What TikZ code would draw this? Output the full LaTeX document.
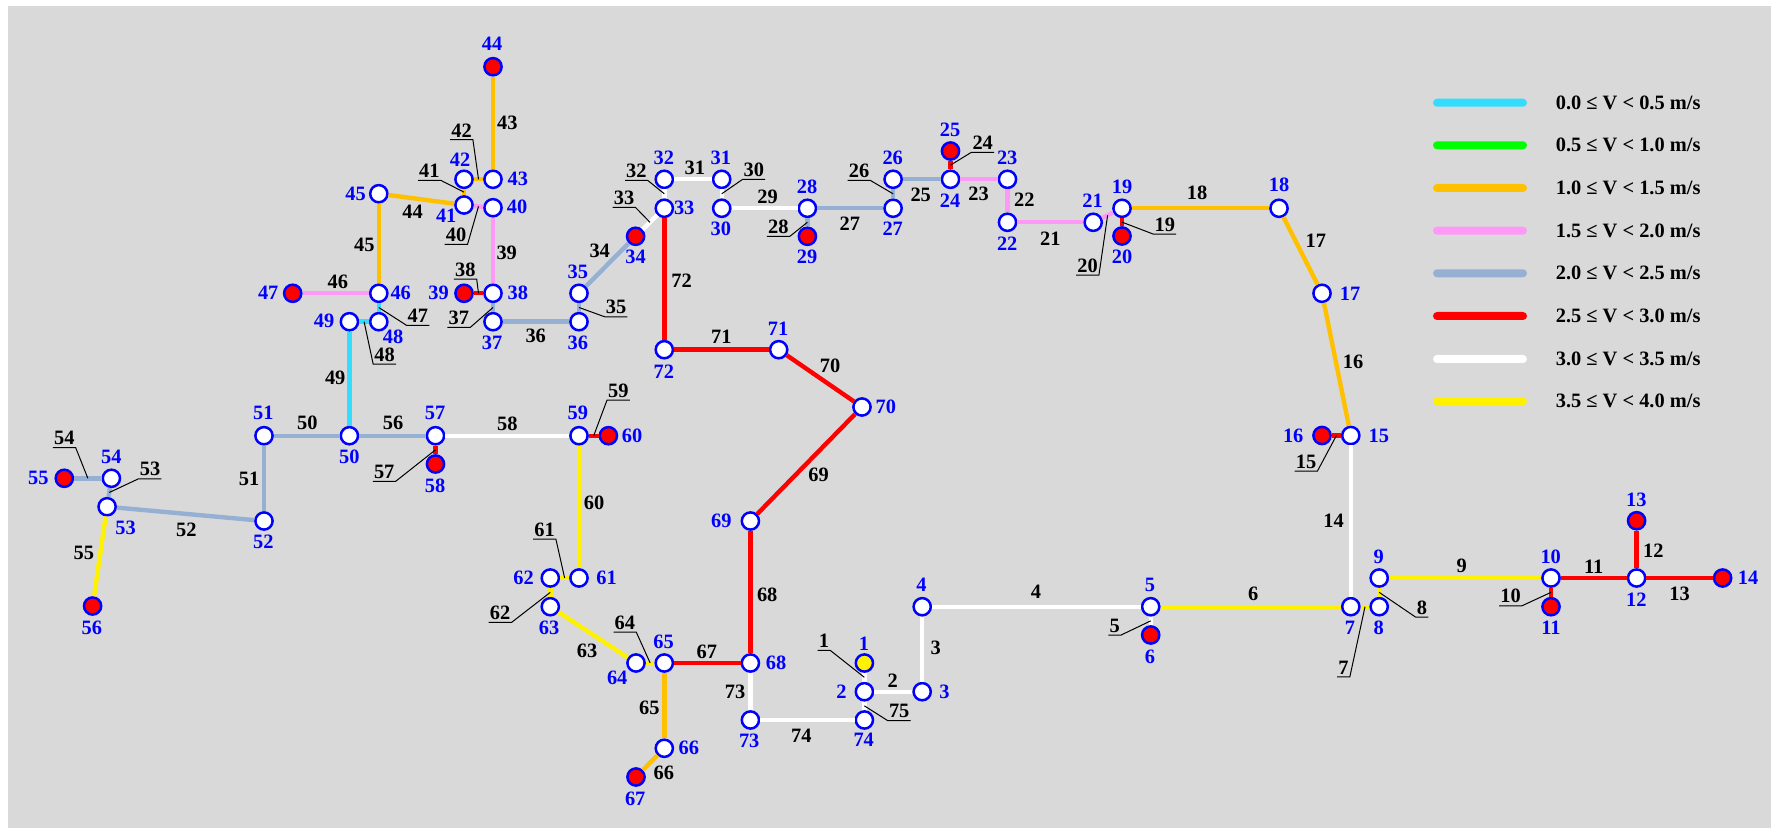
\documentclass[tikz,border=0pt]{standalone}
\usepackage{fontspec}
\setmainfont{Liberation Serif}
\definecolor{panel}{HTML}{D9D9D9}
\definecolor{velcyan}{HTML}{33DDFF}
\definecolor{velgreen}{HTML}{00FF00}
\definecolor{velorange}{HTML}{FFC000}
\definecolor{velpink}{HTML}{FF99F8}
\definecolor{velslate}{HTML}{95B0D2}
\tikzset{
  junc/.style={shape=circle,draw=blue,fill=white,line width=1.25pt,minimum size=8.6pt,inner sep=0pt},
  sink/.style={junc,fill=red},
  source/.style={junc,fill=yellow},
  vtext/.style={text=blue,font=\bfseries\fontsize{10.2}{11}\selectfont,inner sep=0pt},
  elabel/.style={text=black,font=\bfseries\fontsize{10.2}{11}\selectfont,inner sep=0pt},
  tag/.style={elabel,inner xsep=.4pt,inner ysep=1.1pt},
  leader/.style={draw=black,line width=.5pt},
  fcyan/.style={draw=velcyan,line width=2.2pt},
  forange/.style={draw=velorange,line width=2.2pt},
  fpink/.style={draw=velpink,line width=2.2pt},
  fslate/.style={draw=velslate,line width=2.2pt},
  fred/.style={draw=red,line width=2.2pt},
  fwhite/.style={draw=white,line width=2.2pt},
  fyellow/.style={draw=yellow,line width=2.2pt},
  swatch/.style={shape=rectangle,rounded corners=2pt,minimum width=47pt,minimum height=4pt,inner sep=0pt},
  keytext/.style={elabel,anchor=west}
}
\begin{document}
\begin{tikzpicture}[x=.5pt,y=-.5pt]
  \path[use as bounding box] (0,0) rectangle (1771,828);
  \fill[panel] (8,6) rectangle (1771,828);

  \node[source] (n1) at (864.4,663) {};
  \node[junc] (n2) at (864.4,691.7) {};
  \node[junc] (n3) at (922.2,691.7) {};
  \node[junc] (n4) at (922.2,606.7) {};
  \node[junc] (n5) at (1150.7,606.7) {};
  \node[sink] (n6) at (1150.7,635) {};
  \node[junc] (n7) at (1350.8,606.7) {};
  \node[junc] (n8) at (1379.2,606.7) {};
  \node[junc] (n9) at (1379.2,578) {};
  \node[junc] (n10) at (1551,578) {};
  \node[sink] (n11) at (1551,606.7) {};
  \node[junc] (n12) at (1636.6,578) {};
  \node[sink] (n13) at (1636.6,520.7) {};
  \node[sink] (n14) at (1722.6,578) {};
  \node[junc] (n15) at (1350.8,435.5) {};
  \node[sink] (n16) at (1322,435.5) {};
  \node[junc] (n17) at (1322,293.3) {};
  \node[junc] (n18) at (1279,208.3) {};
  \node[junc] (n19) at (1122,208.3) {};
  \node[sink] (n20) at (1122,236) {};
  \node[junc] (n21) at (1093.2,222.3) {};
  \node[junc] (n22) at (1007.5,222.3) {};
  \node[junc] (n23) at (1007.5,179.3) {};
  \node[junc] (n24) at (950.5,179.3) {};
  \node[sink] (n25) at (950.5,151) {};
  \node[junc] (n26) at (893.1,179.3) {};
  \node[junc] (n27) at (893.1,208.3) {};
  \node[junc] (n28) at (807.4,208.3) {};
  \node[sink] (n29) at (807.4,236.3) {};
  \node[junc] (n30) at (721.7,208.3) {};
  \node[junc] (n31) at (721.7,179.3) {};
  \node[junc] (n32) at (664.3,179.3) {};
  \node[junc] (n33) at (664.3,208.3) {};
  \node[sink] (n34) at (635.6,236.3) {};
  \node[junc] (n35) at (579,293.3) {};
  \node[junc] (n36) at (579,321.7) {};
  \node[junc] (n37) at (493,321.7) {};
  \node[junc] (n38) at (493,293.3) {};
  \node[sink] (n39) at (464,293.3) {};
  \node[junc] (n40) at (493,207.7) {};
  \node[junc] (n41) at (464,205) {};
  \node[junc] (n42) at (464,179.3) {};
  \node[junc] (n43) at (493,179.3) {};
  \node[sink] (n44) at (493,66.7) {};
  \node[junc] (n45) at (378.8,193.7) {};
  \node[junc] (n46) at (378.8,293.3) {};
  \node[sink] (n47) at (292.7,293.3) {};
  \node[junc] (n48) at (378.8,321.7) {};
  \node[junc] (n49) at (349.4,321.7) {};
  \node[junc] (n50) at (349.4,435.7) {};
  \node[junc] (n51) at (264,435.7) {};
  \node[junc] (n52) at (264,521) {};
  \node[junc] (n53) at (107.1,506.7) {};
  \node[junc] (n54) at (111.4,478.3) {};
  \node[sink] (n55) at (64.3,478.3) {};
  \node[sink] (n56) at (92.6,606) {};
  \node[junc] (n57) at (435.5,435.7) {};
  \node[sink] (n58) at (435.5,464) {};
  \node[junc] (n59) at (579,435.7) {};
  \node[sink] (n60) at (608.4,435.7) {};
  \node[junc] (n61) at (579,578) {};
  \node[junc] (n62) at (550.3,578) {};
  \node[junc] (n63) at (550.3,606.7) {};
  \node[junc] (n64) at (636,663) {};
  \node[junc] (n65) at (664.3,663) {};
  \node[junc] (n66) at (664.3,748.3) {};
  \node[sink] (n67) at (636,777) {};
  \node[junc] (n68) at (750.4,663) {};
  \node[junc] (n69) at (750.4,521) {};
  \node[junc] (n70) at (862,407) {};
  \node[junc] (n71) at (778.7,349.7) {};
  \node[junc] (n72) at (664.3,349.7) {};
  \node[junc] (n73) at (750.4,720) {};
  \node[junc] (n74) at (864.4,720) {};

  \draw[fwhite] (n1) -- node[coordinate] (e1) {} (n2);
  \draw[fwhite] (n2) -- (n3);
  \draw[fwhite] (n3) -- (n4);
  \draw[fwhite] (n4) -- (n5);
  \draw[fwhite] (n5) -- node[coordinate] (e5) {} (n6);
  \draw[fyellow] (n5) -- (n7);
  \draw[fyellow] (n7) -- node[coordinate] (e7) {} (n8);
  \draw[fyellow] (n8) -- node[coordinate] (e8) {} (n9);
  \draw[fyellow] (n9) -- (n10);
  \draw[fred] (n10) -- node[coordinate] (e10) {} (n11);
  \draw[fred] (n10) -- (n12);
  \draw[fred] (n12) -- (n13);
  \draw[fred] (n12) -- (n14);
  \draw[fwhite] (n7) -- (n15);
  \draw[fred] (n15) -- node[coordinate] (e15) {} (n16);
  \draw[forange] (n15) -- (n17);
  \draw[forange] (n17) -- (n18);
  \draw[forange] (n18) -- (n19);
  \draw[fred] (n19) -- node[coordinate] (e19) {} (n20);
  \draw[fpink] (n19) -- node[coordinate] (e20) {} (n21);
  \draw[fpink] (n21) -- (n22);
  \draw[fpink] (n22) -- (n23);
  \draw[fpink] (n23) -- (n24);
  \draw[fred] (n24) -- node[coordinate] (e24) {} (n25);
  \draw[fslate] (n24) -- (n26);
  \draw[fslate] (n26) -- node[coordinate] (e26) {} (n27);
  \draw[fslate] (n27) -- (n28);
  \draw[fslate] (n28) -- node[coordinate] (e28) {} (n29);
  \draw[fwhite] (n28) -- (n30);
  \draw[fwhite] (n30) -- node[coordinate] (e30) {} (n31);
  \draw[fwhite] (n31) -- (n32);
  \draw[fwhite] (n32) -- node[coordinate] (e32) {} (n33);
  \draw[fwhite] (n33) -- node[coordinate] (e33) {} (n34);
  \draw[fslate] (n34) -- (n35);
  \draw[fslate] (n35) -- node[coordinate] (e35) {} (n36);
  \draw[fslate] (n36) -- (n37);
  \draw[fslate] (n37) -- node[coordinate] (e37) {} (n38);
  \draw[fred] (n38) -- node[coordinate] (e38) {} (n39);
  \draw[fpink] (n38) -- (n40);
  \draw[fpink] (n40) -- node[coordinate] (e40) {} (n41);
  \draw[forange] (n41) -- node[coordinate] (e41) {} (n42);
  \draw[forange] (n42) -- node[coordinate] (e42) {} (n43);
  \draw[forange] (n43) -- (n44);
  \draw[forange] (n41) -- (n45);
  \draw[forange] (n45) -- (n46);
  \draw[fpink] (n46) -- (n47);
  \draw[fcyan] (n46) -- node[coordinate] (e47) {} (n48);
  \draw[fcyan] (n48) -- node[coordinate] (e48) {} (n49);
  \draw[fcyan] (n49) -- (n50);
  \draw[fslate] (n50) -- (n51);
  \draw[fslate] (n51) -- (n52);
  \draw[fslate] (n52) -- (n53);
  \draw[fslate] (n53) -- node[coordinate] (e53) {} (n54);
  \draw[fslate] (n54) -- node[coordinate] (e54) {} (n55);
  \draw[fyellow] (n53) -- (n56);
  \draw[fslate] (n50) -- (n57);
  \draw[fred] (n57) -- node[coordinate] (e57) {} (n58);
  \draw[fwhite] (n57) -- (n59);
  \draw[fred] (n59) -- node[coordinate] (e59) {} (n60);
  \draw[fyellow] (n59) -- (n61);
  \draw[fyellow] (n61) -- node[coordinate] (e61) {} (n62);
  \draw[fyellow] (n62) -- node[coordinate] (e62) {} (n63);
  \draw[fyellow] (n63) -- (n64);
  \draw[fyellow] (n64) -- node[coordinate] (e64) {} (n65);
  \draw[forange] (n65) -- (n66);
  \draw[forange] (n66) -- (n67);
  \draw[fred] (n65) -- (n68);
  \draw[fred] (n68) -- (n69);
  \draw[fred] (n69) -- (n70);
  \draw[fred] (n70) -- (n71);
  \draw[fred] (n71) -- (n72);
  \draw[fred] (n33) -- (n72);
  \draw[fwhite] (n68) -- (n73);
  \draw[fwhite] (n73) -- (n74);
  \draw[fwhite] (n2) -- node[coordinate] (e75) {} (n74);

  \node[vtext] (t1) at (864,643.7) {1};
  \node[vtext] (t2) at (841.5,691.7) {2};
  \node[vtext] (t3) at (944.4,691.7) {3};
  \node[vtext] (t4) at (921.4,584.7) {4};
  \node[vtext] (t5) at (1149.9,584.7) {5};
  \node[vtext] (t6) at (1149.9,657) {6};
  \node[vtext] (t7) at (1350,627.7) {7};
  \node[vtext] (t8) at (1378.8,627.7) {8};
  \node[vtext] (t9) at (1378.8,556.7) {9};
  \node[vtext] (t10) at (1550.7,556.7) {10};
  \node[vtext] (t11) at (1551,627.7) {11};
  \node[vtext] (t12) at (1636.3,599.7) {12};
  \node[vtext] (t13) at (1636.3,499.7) {13};
  \node[vtext] (t14) at (1748,578) {14};
  \node[vtext] (t15) at (1378.8,435.7) {15};
  \node[vtext] (t16) at (1293.2,435.7) {16};
  \node[vtext] (t17) at (1350,293.3) {17};
  \node[vtext] (t18) at (1279,184.7) {18};
  \node[vtext] (t19) at (1122,186.7) {19};
  \node[vtext] (t20) at (1122,257.3) {20};
  \node[vtext] (t21) at (1092.5,200.7) {21};
  \node[vtext] (t22) at (1007.2,243.7) {22};
  \node[vtext] (t23) at (1007.2,157.7) {23};
  \node[vtext] (t24) at (950.1,200.7) {24};
  \node[vtext] (t25) at (950.1,129.7) {25};
  \node[vtext] (t26) at (892.7,157.7) {26};
  \node[vtext] (t27) at (892.7,228.7) {27};
  \node[vtext] (t28) at (807,186.7) {28};
  \node[vtext] (t29) at (807,257.3) {29};
  \node[vtext] (t30) at (720.9,228.7) {30};
  \node[vtext] (t31) at (720.9,157.7) {31};
  \node[vtext] (t32) at (663.9,157.7) {32};
  \node[vtext] (t33) at (684.2,208.3) {33};
  \node[vtext] (t34) at (635.6,257.3) {34};
  \node[vtext] (t35) at (577.8,271.7) {35};
  \node[vtext] (t36) at (577.8,342.7) {36};
  \node[vtext] (t37) at (492.1,342.7) {37};
  \node[vtext] (t38) at (517.8,292.7) {38};
  \node[vtext] (t39) at (438.5,292.7) {39};
  \node[vtext] (t40) at (517,207.3) {40};
  \node[vtext] (t41) at (446.2,215.7) {41};
  \node[vtext] (t42) at (460,159.7) {42};
  \node[vtext] (t43) at (517.8,179.3) {43};
  \node[vtext] (t44) at (492.1,43.3) {44};
  \node[vtext] (t45) at (355.5,193.7) {45};
  \node[vtext] (t46) at (400.7,292.7) {46};
  \node[vtext] (t47) at (268.2,292.7) {47};
  \node[vtext] (t48) at (393,336.7) {48};
  \node[vtext] (t49) at (324.1,321.3) {49};
  \node[vtext] (t50) at (349.4,456.7) {50};
  \node[vtext] (t51) at (263.3,412.5) {51};
  \node[vtext] (t52) at (263.3,541.7) {52};
  \node[vtext] (t53) at (125.5,528) {53};
  \node[vtext] (t54) at (111.4,456.7) {54};
  \node[vtext] (t55) at (38.3,478.3) {55};
  \node[vtext] (t56) at (91.8,627.7) {56};
  \node[vtext] (t57) at (435.1,412.5) {57};
  \node[vtext] (t58) at (435.1,485.7) {58};
  \node[vtext] (t59) at (577.8,412.5) {59};
  \node[vtext] (t60) at (632.1,435.7) {60};
  \node[vtext] (t61) at (606.5,578) {61};
  \node[vtext] (t62) at (523.5,578) {62};
  \node[vtext] (t63) at (549.1,627.7) {63};
  \node[vtext] (t64) at (617.2,678) {64};
  \node[vtext] (t65) at (663.5,642) {65};
  \node[vtext] (t66) at (688.8,748.3) {66};
  \node[vtext] (t67) at (635.2,798.7) {67};
  \node[vtext] (t68) at (776,663.3) {68};
  \node[vtext] (t69) at (721.3,520.7) {69};
  \node[vtext] (t70) at (885.8,406.7) {70};
  \node[vtext] (t71) at (778,329) {71};
  \node[vtext] (t72) at (663.9,371.3) {72};
  \node[vtext] (t73) at (749.2,741.3) {73};
  \node[vtext] (t74) at (863.7,739.3) {74};

  \node[elabel] (l2) at (892.7,680.3) {2};
  \node[elabel] (l3) at (935.6,648.3) {3};
  \node[elabel] (l4) at (1035.9,591.7) {4};
  \node[elabel] (l6) at (1253.2,594) {6};
  \node[elabel] (l9) at (1461.8,566.3) {9};
  \node[elabel] (l11) at (1593.7,566.7) {11};
  \node[elabel] (l12) at (1653.4,550.3) {12};
  \node[elabel] (l13) at (1679.6,594.3) {13};
  \node[elabel] (l14) at (1333.6,520.7) {14};
  \node[elabel] (l16) at (1353,361.7) {16};
  \node[elabel] (l17) at (1315.8,240.7) {17};
  \node[elabel] (l18) at (1197,193.3) {18};
  \node[elabel] (l21) at (1050.4,238.7) {21};
  \node[elabel] (l22) at (1024.4,199.3) {22};
  \node[elabel] (l23) at (978.5,194) {23};
  \node[elabel] (l25) at (920.7,194.7) {25};
  \node[elabel] (l27) at (849.9,223.7) {27};
  \node[elabel] (l29) at (767.6,196.7) {29};
  \node[elabel] (l31) at (694.9,167.7) {31};
  \node[elabel] (l34) at (599.7,251) {34};
  \node[elabel] (l36) at (535.7,335.7) {36};
  \node[elabel] (l39) at (506.7,253.3) {39};
  \node[elabel] (l43) at (507.4,123.3) {43};
  \node[elabel] (l44) at (412.5,211.7) {44};
  \node[elabel] (l45) at (364.3,244.7) {45};
  \node[elabel] (l46) at (337.9,281.7) {46};
  \node[elabel] (l49) at (335.2,378.3) {49};
  \node[elabel] (l50) at (307.3,422.7) {50};
  \node[elabel] (l51) at (249.1,478.7) {51};
  \node[elabel] (l52) at (186.4,529.7) {52};
  \node[elabel] (l55) at (83.8,552.7) {55};
  \node[elabel] (l56) at (393,422.7) {56};
  \node[elabel] (l58) at (507.4,424) {58};
  \node[elabel] (l60) at (594,503) {60};
  \node[elabel] (l63) at (587,650.7) {63};
  \node[elabel] (l65) at (649.4,707.7) {65};
  \node[elabel] (l66) at (663.9,773) {66};
  \node[elabel] (l67) at (706.8,651.7) {67};
  \node[elabel] (l68) at (767.2,594.7) {68};
  \node[elabel] (l69) at (818.5,475.3) {69};
  \node[elabel] (l70) at (830,365.7) {70};
  \node[elabel] (l71) at (721.3,336.7) {71};
  \node[elabel] (l72) at (681.5,280.7) {72};
  \node[elabel] (l73) at (735,691.7) {73};
  \node[elabel] (l74) at (801.3,735.7) {74};

  \node[tag] (c1) at (823.9,641) {1};
  \draw[leader] (c1.south west) -- (c1.south east) -- (e1);
  \node[tag] (c5) at (1114.7,625.7) {5};
  \draw[leader] (c5.south west) -- (c5.south east) -- (e5);
  \node[tag] (c7) at (1343.5,667.7) {7};
  \draw[leader] (c7.south west) -- (c7.south east) -- (e7);
  \node[tag] (c8) at (1422,607.7) {8};
  \draw[leader] (c8.south east) -- (c8.south west) -- (e8);
  \node[tag] (c10) at (1510.6,596.3) {10};
  \draw[leader] (c10.south west) -- (c10.south east) -- (e10);
  \node[tag] (c15) at (1306,461.7) {15};
  \draw[leader] (c15.south west) -- (c15.south east) -- (e15);
  \node[tag] (c19) at (1164.8,224.7) {19};
  \draw[leader] (c19.south east) -- (c19.south west) -- (e19);
  \node[tag] (c20) at (1087.5,265.7) {20};
  \draw[leader] (c20.south west) -- (c20.south east) -- (e20);
  \node[tag] (c24) at (982.7,143) {24};
  \draw[leader] (c24.south east) -- (c24.south west) -- (e24);
  \node[tag] (c26) at (859,171) {26};
  \draw[leader] (c26.south west) -- (c26.south east) -- (e26);
  \node[tag] (c28) at (778.3,227) {28};
  \draw[leader] (c28.south west) -- (c28.south east) -- (e28);
  \node[tag] (c30) at (753.8,170) {30};
  \draw[leader] (c30.south east) -- (c30.south west) -- (e30);
  \node[tag] (c32) at (636.4,171) {32};
  \draw[leader] (c32.south west) -- (c32.south east) -- (e32);
  \node[tag] (c33) at (624.1,198) {33};
  \draw[leader] (c33.south west) -- (c33.south east) -- (e33);
  \node[tag] (c35) at (616,307.3) {35};
  \draw[leader] (c35.south east) -- (c35.south west) -- (e35);
  \node[tag] (c37) at (458.8,318) {37};
  \draw[leader] (c37.south west) -- (c37.south east) -- (e37);
  \node[tag] (c38) at (465.3,269.7) {38};
  \draw[leader] (c38.south west) -- (c38.south east) -- (e38);
  \node[tag] (c40) at (456.1,235) {40};
  \draw[leader] (c40.south west) -- (c40.south east) -- (e40);
  \node[tag] (c41) at (429.4,171) {41};
  \draw[leader] (c41.south west) -- (c41.south east) -- (e41);
  \node[tag] (c42) at (461.5,130.3) {42};
  \draw[leader] (c42.south west) -- (c42.south east) -- (e42);
  \node[tag] (c47) at (417.9,316) {47};
  \draw[leader] (c47.south east) -- (c47.south west) -- (e47);
  \node[tag] (c48) at (384.6,354.7) {48};
  \draw[leader] (c48.south east) -- (c48.south west) -- (e48);
  \node[tag] (c53) at (150,469.3) {53};
  \draw[leader] (c53.south east) -- (c53.south west) -- (e53);
  \node[tag] (c54) at (64.3,438.3) {54};
  \draw[leader] (c54.south west) -- (c54.south east) -- (e54);
  \node[tag] (c57) at (384.2,472) {57};
  \draw[leader] (c57.south west) -- (c57.south east) -- (e57);
  \node[tag] (c59) at (618.4,390.7) {59};
  \draw[leader] (c59.south east) -- (c59.south west) -- (e59);
  \node[tag] (c61) at (544.5,529.7) {61};
  \draw[leader] (c61.south west) -- (c61.south east) -- (e61);
  \node[tag] (c62) at (500.1,613) {62};
  \draw[leader] (c62.south west) -- (c62.south east) -- (e62);
  \node[tag] (c64) at (624.9,622.7) {64};
  \draw[leader] (c64.south west) -- (c64.south east) -- (e64);
  \node[tag] (c75) at (899.2,711.3) {75};
  \draw[leader] (c75.south east) -- (c75.south west) -- (e75);

  \node[swatch,fill=velcyan] (k1) at (1480,102.7) {};
  \node[swatch,fill=velgreen] (k2) at (1480,145.3) {};
  \node[swatch,fill=velorange] (k3) at (1480,188) {};
  \node[swatch,fill=velpink] (k4) at (1480,230.7) {};
  \node[swatch,fill=velslate] (k5) at (1480,273.3) {};
  \node[swatch,fill=red] (k6) at (1480,316) {};
  \node[swatch,fill=white] (k7) at (1480,359) {};
  \node[swatch,fill=yellow] (k8) at (1480,401.3) {};
  \node[keytext] (s1) at (1555.4,102.7) {0.0 ≤ V < 0.5 m/s};
  \node[keytext] (s2) at (1555.4,145.3) {0.5 ≤ V < 1.0 m/s};
  \node[keytext] (s3) at (1555.4,188) {1.0 ≤ V < 1.5 m/s};
  \node[keytext] (s4) at (1555.4,230.7) {1.5 ≤ V < 2.0 m/s};
  \node[keytext] (s5) at (1555.4,273.3) {2.0 ≤ V < 2.5 m/s};
  \node[keytext] (s6) at (1555.4,316) {2.5 ≤ V < 3.0 m/s};
  \node[keytext] (s7) at (1555.4,359) {3.0 ≤ V < 3.5 m/s};
  \node[keytext] (s8) at (1555.4,401.3) {3.5 ≤ V < 4.0 m/s};
\end{tikzpicture}
\end{document}
